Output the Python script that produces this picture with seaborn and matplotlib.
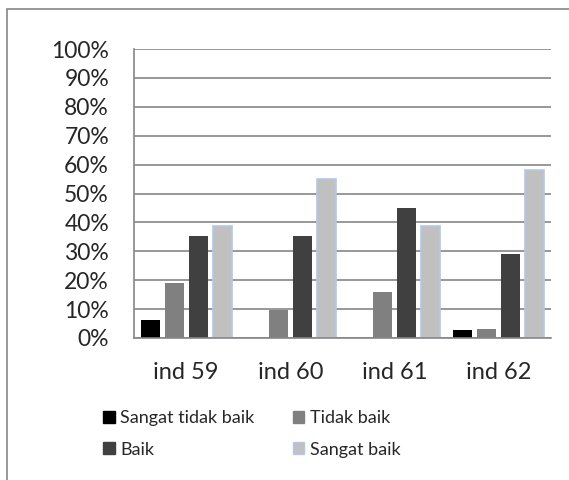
import matplotlib
matplotlib.use("Agg")
import matplotlib.pyplot as plt
import seaborn as sns
import pandas as pd
from matplotlib.patches import Rectangle, Patch
from matplotlib.ticker import PercentFormatter

# data (percent)
categories = ["ind 59", "ind 60", "ind 61", "ind 62"]
series = ["Sangat tidak baik", "Tidak baik", "Baik", "Sangat baik"]
sangat_tidak_baik = [6.2, 0, 0, 2.9]
tidak_baik = [19.1, 9.8, 15.9, 3.1]
baik = [35.3, 35.3, 45.0, 28.9]
sangat_baik = [38.8, 55.1, 38.8, 58.2]

colors = ["#000000", "#808080", "#404040", "#c0c0c0"]

df = pd.DataFrame({
    "cat": categories * 4,
    "series": [s for s in series for _ in categories],
    "value": sangat_tidak_baik + tidak_baik + baik + sangat_baik,
})

sns.set_style("white")
plt.rcParams["font.family"] = ["Lato", "DejaVu Sans"]

fig = plt.figure(figsize=(5.69, 4.8), dpi=100)
ax = fig.add_axes([134 / 569, 1 - 338 / 480, 417 / 569, 289 / 480])

sns.barplot(data=df, x="cat", y="value", hue="series", hue_order=series,
            palette=colors, width=0.92, gap=0.2, ax=ax, legend=False,
            saturation=1, linewidth=0)

# light blue outline on the lightest bars
for p in ax.containers[3]:
    p.set_edgecolor("#b4c7e7")
    p.set_linewidth(1.2)

ax.set_ylim(0, 100)
ax.set_xlim(-0.5, 3.5)
ax.set_yticks(range(0, 101, 10))
ax.yaxis.set_major_formatter(PercentFormatter(decimals=0))
ax.grid(axis="y", color="#868686", linewidth=1.2)
ax.set_axisbelow(True)
for side in ["top", "right"]:
    ax.spines[side].set_visible(False)
ax.spines["left"].set_color("#868686")
ax.spines["bottom"].set_color("#868686")
ax.spines["left"].set_linewidth(1.2)
ax.spines["bottom"].set_linewidth(1.2)
ax.tick_params(axis="y", labelsize=16.5, length=0, pad=18)
ax.tick_params(axis="x", labelsize=17, length=0, pad=17)
ax.set_xlabel("")
ax.set_ylabel("")

# legend ordered row-wise in two columns
handles = [Patch(facecolor=c, edgecolor=("#b4c7e7" if i == 3 else c))
           for i, c in enumerate(colors)]
order = [0, 2, 1, 3]
fig.legend([handles[i] for i in order], [series[i] for i in order],
           loc="upper left", bbox_to_anchor=(87 / 569, 1 - 394 / 480),
           ncol=2, frameon=False, fontsize=13, handlelength=0.65,
           handleheight=0.65, handletextpad=0.3, columnspacing=2.1,
           labelspacing=0.85)

# chart border
fig.patches.append(Rectangle((7 / 569, -0.1), 1.2, 1 - 9 / 480 + 0.1,
                             transform=fig.transFigure, fill=False,
                             edgecolor="#868686", linewidth=1.2))

fig.savefig("out.png", dpi=100)
